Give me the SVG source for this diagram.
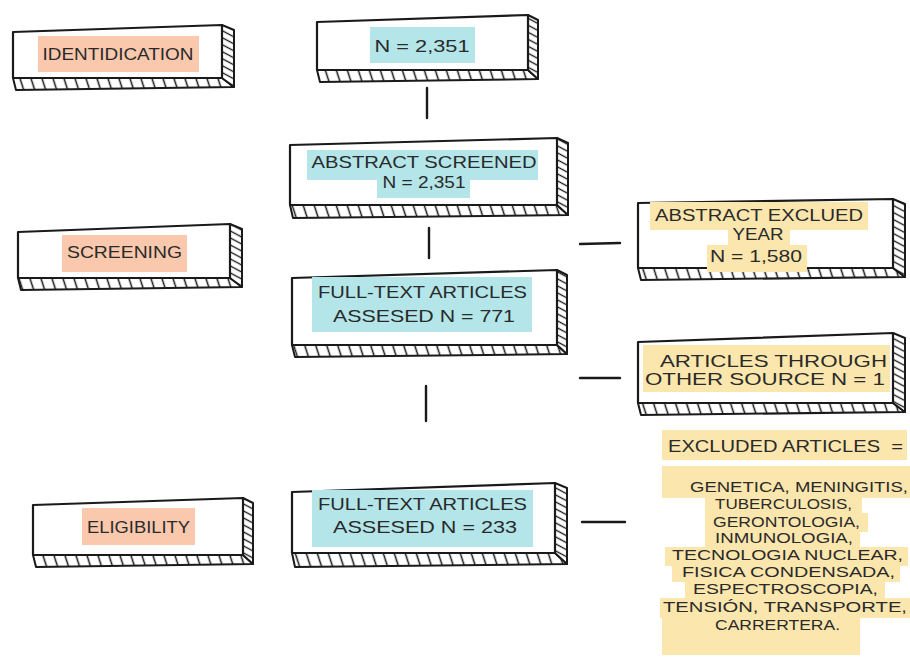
<svg xmlns="http://www.w3.org/2000/svg" width="910" height="659" viewBox="0 0 910 659">
<style>
.face{fill:#fff;stroke:#1a1a1a;stroke-width:2.2;stroke-linejoin:round}
.bot{fill:url(#hb);stroke:#1a1a1a;stroke-width:2;stroke-linejoin:round}
.side{fill:url(#hs);stroke:#1a1a1a;stroke-width:2;stroke-linejoin:round}
.pe{fill:#f9c8ad}
.cy{fill:#b3e5e9}
.ye{fill:#fbe6ad}
.t{font-family:"Liberation Sans","Arial",sans-serif;font-size:17px;fill:#2a2a2a;text-anchor:middle}
.s{font-size:15px}
.c line{stroke:#1a1a1a;stroke-width:2.4;stroke-linecap:round}
</style>
<defs>
<pattern id="hb" width="11" height="10" patternUnits="userSpaceOnUse" patternTransform="skewX(18)">
<rect width="11" height="10" fill="#fff"/><path d="M5.5 0V10" stroke="#1a1a1a" stroke-width="1.6"/>
</pattern>
<pattern id="hs" width="10" height="7" patternUnits="userSpaceOnUse" patternTransform="skewY(28)">
<rect width="10" height="7" fill="#fff"/><path d="M0 3.5H10" stroke="#1a1a1a" stroke-width="1.5"/>
</pattern>
</defs>
<rect width="910" height="659" fill="#fff"/>

<g class="c" id="connectors">
<line x1="427" y1="88" x2="427" y2="118"/>
<line x1="429" y1="228" x2="429" y2="258"/>
<line x1="426" y1="386" x2="426" y2="421"/>
<line x1="580" y1="244" x2="620" y2="243"/>
<line x1="580" y1="378" x2="620" y2="378"/>
<line x1="582" y1="522" x2="625" y2="522"/>
</g>

<g id="identification">
<path class="bot" d="M13 78L222 78L234 87L16 90Z"/>
<path class="side" d="M222 25L234 30L234 87L222 78Z"/>
<path class="face" d="M13 32L222 25L222 78L13 78Z"/>
<rect class="pe" x="38" y="36" width="161" height="36"/>
<text class="t" x="118" y="60" textLength="151" lengthAdjust="spacingAndGlyphs">IDENTIDICATION</text>
</g>

<g id="n-total">
<path class="bot" d="M317 70L528 70L538 79L320 82Z"/>
<path class="side" d="M528 15L538 20L538 79L528 70Z"/>
<path class="face" d="M317 22L528 15L528 70L317 70Z"/>
<rect class="cy" x="370" y="27" width="105" height="36"/>
<text class="t" x="422" y="52" textLength="95" lengthAdjust="spacingAndGlyphs">N = 2,351</text>
</g>

<g id="abstract-screened">
<path class="bot" d="M290 205L557 205L568 215L293 218Z"/>
<path class="side" d="M557 138L568 143L568 215L557 205Z"/>
<path class="face" d="M290 145L557 138L557 205L290 205Z"/>
<rect class="cy" x="307" y="150" width="231" height="30"/>
<rect class="cy" x="377" y="178" width="93" height="20"/>
<text class="t" x="424" y="168" textLength="225" lengthAdjust="spacingAndGlyphs">ABSTRACT SCREENED</text>
<text class="t" x="424" y="188" textLength="83" lengthAdjust="spacingAndGlyphs">N = 2,351</text>
</g>

<g id="abstract-excluded">
<path class="bot" d="M638 268L893 268L905 277L641 280Z"/>
<path class="side" d="M893 199L905 204L905 277L893 268Z"/>
<path class="face" d="M638 203L893 199L893 268L638 268Z"/>
<rect class="ye" x="650" y="202" width="218" height="28"/>
<rect class="ye" x="728" y="228" width="62" height="18"/>
<rect class="ye" x="707" y="245" width="100" height="27"/>
<text class="t" x="759" y="221" textLength="208" lengthAdjust="spacingAndGlyphs">ABSTRACT EXCLUED</text>
<text class="t" x="758" y="240" textLength="51" lengthAdjust="spacingAndGlyphs">YEAR</text>
<text class="t" x="756" y="262" textLength="92" lengthAdjust="spacingAndGlyphs">N = 1,580</text>
</g>

<g id="screening">
<path class="bot" d="M18 278L230 278L242 287L21 290Z"/>
<path class="side" d="M230 224L242 229L242 287L230 278Z"/>
<path class="face" d="M18 232L230 224L230 278L18 278Z"/>
<rect class="pe" x="62" y="235" width="125" height="37"/>
<text class="t" x="124.5" y="258" textLength="115" lengthAdjust="spacingAndGlyphs">SCREENING</text>
</g>

<g id="fulltext-771">
<path class="bot" d="M292 345L557 345L567 354L295 357Z"/>
<path class="side" d="M557 270L567 275L567 354L557 345Z"/>
<path class="face" d="M292 278L557 270L557 345L292 345Z"/>
<rect class="cy" x="312" y="277" width="220" height="55"/>
<text class="t" x="422.5" y="298" textLength="209" lengthAdjust="spacingAndGlyphs">FULL-TEXT ARTICLES</text>
<text class="t" x="424" y="322" textLength="182" lengthAdjust="spacingAndGlyphs">ASSESED N = 771</text>
</g>

<g id="other-source">
<path class="bot" d="M638 403L893 403L905 412L641 415Z"/>
<path class="side" d="M893 333L905 338L905 412L893 403Z"/>
<path class="face" d="M638 342L893 333L893 403L638 403Z"/>
<rect class="ye" x="643" y="345" width="247" height="47"/>
<text class="t" x="773.5" y="367" textLength="227" lengthAdjust="spacingAndGlyphs">ARTICLES THROUGH</text>
<text class="t" x="765" y="385" textLength="240" lengthAdjust="spacingAndGlyphs">OTHER SOURCE N = 1</text>
</g>

<g id="fulltext-233">
<path class="bot" d="M292 553L555 553L567 564L295 567Z"/>
<path class="side" d="M555 483L567 488L567 564L555 553Z"/>
<path class="face" d="M292 492L555 483L555 553L292 553Z"/>
<rect class="cy" x="312" y="490" width="221" height="57"/>
<text class="t" x="422.5" y="510" textLength="209" lengthAdjust="spacingAndGlyphs">FULL-TEXT ARTICLES</text>
<text class="t" x="425" y="533" textLength="184" lengthAdjust="spacingAndGlyphs">ASSESED N = 233</text>
</g>

<g id="eligibility">
<path class="bot" d="M33 555L243 555L253 564L36 567Z"/>
<path class="side" d="M243 498L253 503L253 564L243 555Z"/>
<path class="face" d="M33 505L243 498L243 555L33 555Z"/>
<rect class="pe" x="82" y="508" width="113" height="37"/>
<text class="t" x="138.5" y="533" textLength="103" lengthAdjust="spacingAndGlyphs">ELIGIBILITY</text>
</g>

<g id="excluded-articles">
<rect class="ye" x="662" y="430" width="245" height="30"/>
<rect class="ye" x="662" y="466" width="248" height="32"/>
<rect class="ye" x="705" y="497" width="157" height="17"/>
<rect class="ye" x="705" y="513" width="163" height="19"/>
<rect class="ye" x="705" y="531" width="155" height="17"/>
<rect class="ye" x="665" y="547" width="243" height="19"/>
<rect class="ye" x="672" y="565" width="228" height="17"/>
<rect class="ye" x="685" y="581" width="200" height="18"/>
<rect class="ye" x="660" y="598" width="250" height="20"/>
<rect class="ye" x="662" y="617" width="198" height="38"/>
<text class="t" x="785.5" y="452" textLength="235" lengthAdjust="spacingAndGlyphs" xml:space="preserve">EXCLUDED ARTICLES  =</text>
<text class="t s" x="799" y="492" textLength="218" lengthAdjust="spacingAndGlyphs">GENETICA, MENINGITIS,</text>
<text class="t s" x="783.5" y="509" textLength="137" lengthAdjust="spacingAndGlyphs">TUBERCULOSIS,</text>
<text class="t s" x="786.5" y="527" textLength="147" lengthAdjust="spacingAndGlyphs">GERONTOLOGIA,</text>
<text class="t s" x="784" y="543" textLength="138" lengthAdjust="spacingAndGlyphs">INMUNOLOGIA,</text>
<text class="t s" x="787.5" y="560" textLength="231" lengthAdjust="spacingAndGlyphs">TECNOLOGIA NUCLEAR,</text>
<text class="t s" x="788.5" y="577" textLength="213" lengthAdjust="spacingAndGlyphs">FISICA CONDENSADA,</text>
<text class="t s" x="785.5" y="594" textLength="185" lengthAdjust="spacingAndGlyphs">ESPECTROSCOPIA,</text>
<text class="t s" x="785" y="612" textLength="244" lengthAdjust="spacingAndGlyphs">TENSIÓN, TRANSPORTE,</text>
<text class="t s" x="777.5" y="630" textLength="125" lengthAdjust="spacingAndGlyphs">CARRERTERA.</text>
</g>
</svg>
